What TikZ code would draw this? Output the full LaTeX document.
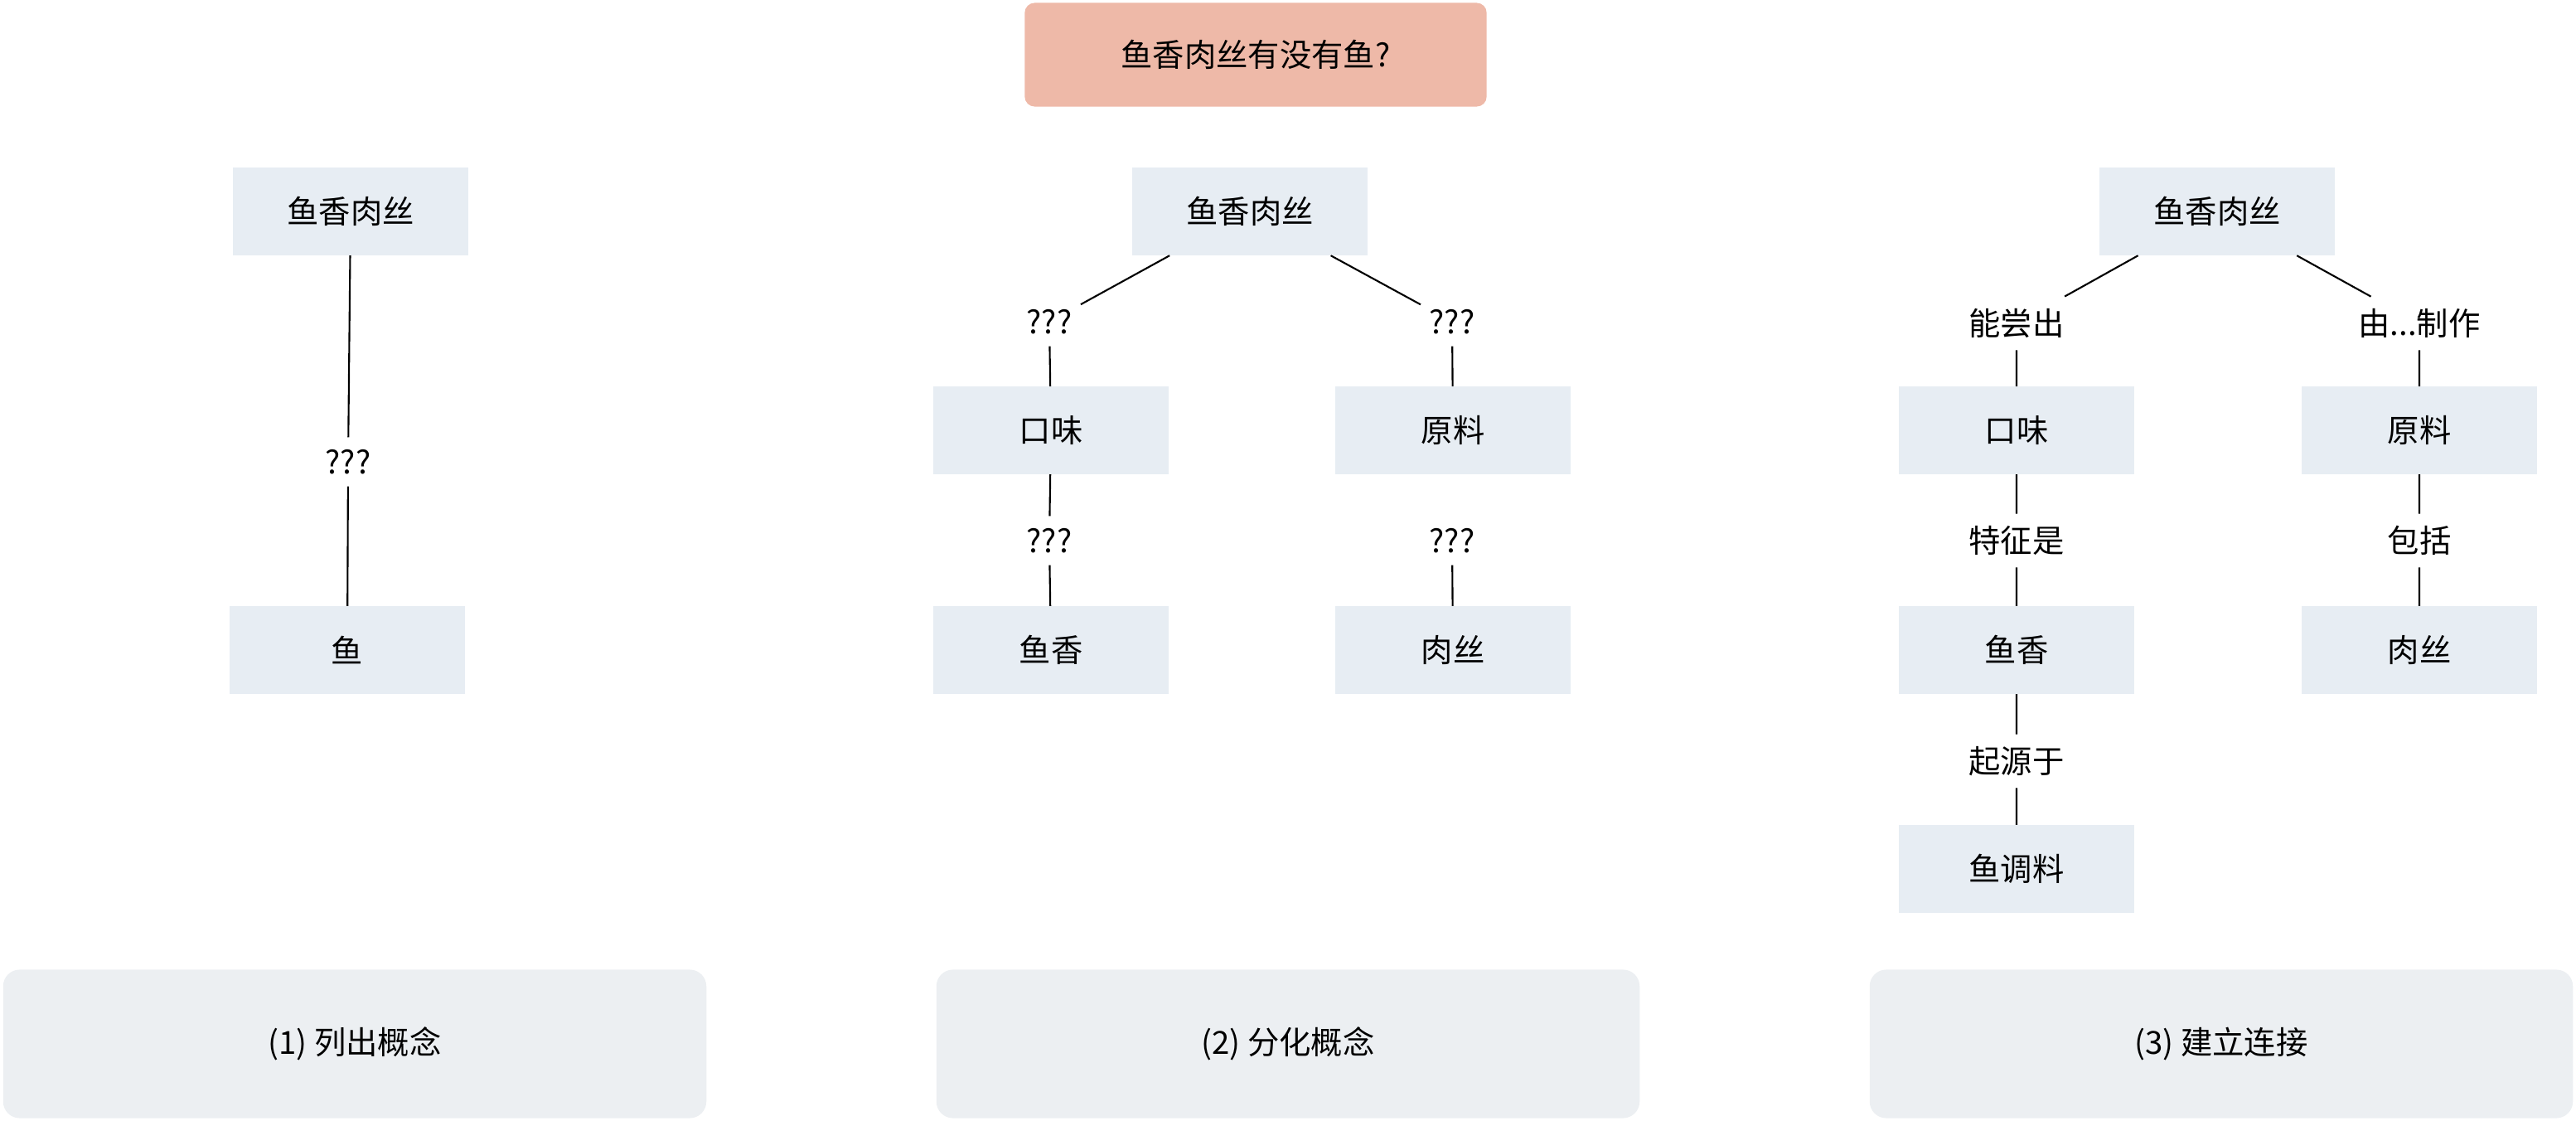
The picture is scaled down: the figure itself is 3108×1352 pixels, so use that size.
\documentclass[tikz,border=0pt]{standalone}
\usepackage{fontspec}
\setmainfont{Noto Sans CJK SC}
\definecolor{conceptfill}{HTML}{E7EDF3}
\definecolor{stagefill}{HTML}{ECEFF2}
\definecolor{questionfill}{HTML}{EEB9A8}
\begin{document}
\begin{tikzpicture}[x=0.01cm,y=-0.01cm,
  font=\fontsize{10.9pt}{13pt}\selectfont,
  concept/.style={fill=conceptfill, minimum width=2.84cm, minimum height=1.05cm, inner sep=0pt},
  rel/.style={inner xsep=0.1cm, inner ysep=0.14cm},
  stage/.style={fill=stagefill, rounded corners=0.2cm, minimum width=8.48cm, minimum height=1.79cm, inner sep=0pt},
  link/.style={draw=black, line width=0.6pt}]
\useasboundingbox (0,0) rectangle (3108,1352);

% question
\node[fill=questionfill, rounded corners=0.12cm, minimum width=5.57cm, minimum height=1.25cm, inner sep=0pt]
  (q) at (1515,66) {鱼香肉丝有没有鱼?};

% (1) list the concepts
\node[concept] (a0) at (423,255) {鱼香肉丝};
\node[rel] (ar) at (420,557) {???};
\node[concept] (a1) at (419,784) {鱼};
\draw[link] (a0) -- (ar) -- (a1);

% (2) split the concepts
\node[concept] (b0) at (1508,255) {鱼香肉丝};
\node[rel] (brl) at (1266,388) {???};
\node[rel] (brr) at (1752,388) {???};
\node[concept] (b1) at (1268,519) {口味};
\node[concept] (b2) at (1753,519) {原料};
\node[rel] (brl2) at (1266,652) {???};
\node[rel] (brr2) at (1752,652) {???};
\node[concept] (b3) at (1268,784) {鱼香};
\node[concept] (b4) at (1753,784) {肉丝};
\draw[link] (b0) -- (brl) -- (b1) -- (brl2) -- (b3);
\draw[link] (b0) -- (brr) -- (b2);
\draw[link] (brr2) -- (b4);

% (3) connect the concepts
\node[concept] (c0) at (2675,255) {鱼香肉丝};
\node[rel] (crl) at (2433,390) {能尝出};
\node[rel] (crr) at (2919,390) {由...制作};
\node[concept] (c1) at (2433,519) {口味};
\node[concept] (c2) at (2919,519) {原料};
\node[rel] (crl2) at (2433,652) {特征是};
\node[rel] (crr2) at (2919,652) {包括};
\node[concept] (c3) at (2433,784) {鱼香};
\node[concept] (c4) at (2919,784) {肉丝};
\node[rel] (crl3) at (2433,918) {起源于};
\node[concept] (c5) at (2433,1048) {鱼调料};
\draw[link] (c0) -- (crl) -- (c1) -- (crl2) -- (c3) -- (crl3) -- (c5);
\draw[link] (c0) -- (crr) -- (c2) -- (crr2) -- (c4);

% stage captions
\node[stage] (s1) at (428,1259) {(1) 列出概念};
\node[stage] (s2) at (1554,1259) {(2) 分化概念};
\node[stage] (s3) at (2680,1259) {(3) 建立连接};
\end{tikzpicture}
\end{document}
